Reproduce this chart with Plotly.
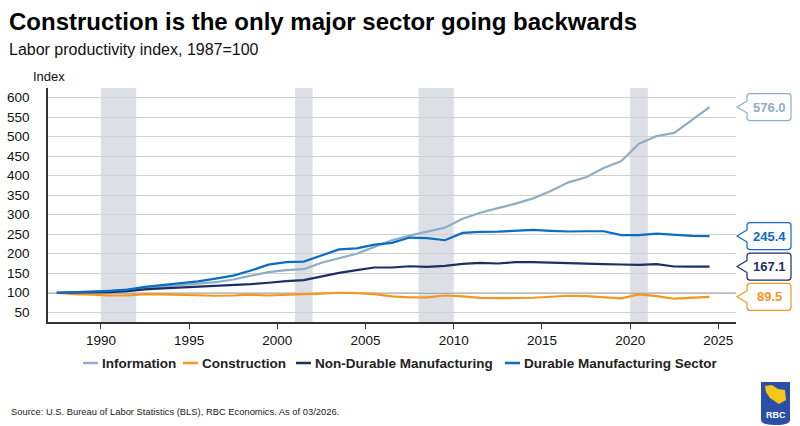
import plotly.graph_objects as go

# ---------------- data ----------------
years = list(range(1987, 2025))

information = [100, 102, 103, 104, 107.7, 112, 115, 119, 122, 127, 134, 143, 153, 158,
               160.5, 177, 189.5, 200, 217.6, 234.7, 246.6, 256, 267, 290, 305, 317,
               328.5, 342, 361, 383, 396, 420, 437.6, 482, 501.5, 510, 544, 576.0]

construction = [100, 96.5, 95, 93, 93, 96.6, 95.7, 94, 92.3, 92.3, 93, 95, 93, 94,
                96.6, 98, 100, 99, 96.6, 90.6, 88, 88, 93, 90.6, 87, 86,
                86.4, 87.2, 89.8, 92.3, 91.5, 89, 85.5, 95.7, 91.5, 84.7, 87, 89.5]

non_durable = [100, 100.5, 101, 101.7, 104, 108.5, 111, 113, 114.5, 117, 119.6, 122, 125.6, 130,
               132.4, 142.6, 151, 158, 164.8, 164.8, 168, 166.5, 169, 174, 176.7, 175,
               178.4, 178.4, 176.7, 176.7, 174, 173.3, 172.5, 171.6, 173.3, 167.3, 167, 167.1]

durable = [100, 101, 103, 105, 108, 115, 120, 124, 129, 136, 144, 157, 172, 178.4,
           180, 195.5, 211, 214, 223.6, 228, 241.5, 240, 234.7, 253.5, 256, 256.5,
           258.6, 261, 258.6, 257, 257.7, 257.7, 248, 248, 251.7, 249, 245.8, 245.4]

series_names = ["Information", "Construction", "Non-Durable Manufacturing", "Durable Manufacturing Sector"]
series_values = [information, construction, non_durable, durable]
series_colors = ["#8FAEC3", "#F7961E", "#1C2F66", "#0B6CC4"]

recession_start = [1990, 2001, 2008, 2020]
recession_end = [1992, 2002, 2010, 2021]

y_ticks = list(range(50, 601, 50))
x_ticks = list(range(1990, 2026, 5))
baseline = 100

# ---------------- layout helpers ----------------
W, H = 800, 426
ML, MR, MT, MB = 48, 64, 88, 104
PW, PH = W - ML - MR, H - MT - MB


def px2x(px):
    return (px - ML) / PW


def px2y(py):
    return (MT + PH - py) / PH


FONT = "Liberation Sans, Arial, sans-serif"

fig = go.Figure()

for name, vals, col in zip(series_names, series_values, series_colors):
    fig.add_trace(go.Scatter(
        x=[y + 0.5 for y in years], y=vals, name=name, mode="lines",
        line=dict(color=col, width=2.2), hoverinfo="x+y", showlegend=False))

shapes = []
for s, e in zip(recession_start, recession_end):
    shapes.append(dict(type="rect", xref="x", yref="paper", x0=s, x1=e, y0=0, y1=1,
                       fillcolor="#DCDFE6", line=dict(width=0), layer="below"))

shapes.append(dict(type="line", xref="paper", yref="y", x0=0, x1=1, y0=baseline, y1=baseline,
                   line=dict(color="#7A7A7A", width=1.5), layer="below"))

# callouts
callout_path = ("M 11,6 L 1,0 L 11,-6 L 11,-10.5 Q 11,-13.5 14,-13.5 L 52,-13.5 "
                "Q 55,-13.5 55,-10.5 L 55,10.5 Q 55,13.5 52,13.5 L 14,13.5 "
                "Q 11,13.5 11,10.5 Z")
annotations = []
for vals, col in zip(series_values, series_colors):
    shapes.append(dict(type="path", xref="paper", yref="y", xsizemode="pixel", ysizemode="pixel",
                       xanchor=1, yanchor=vals[-1], path=callout_path,
                       fillcolor="white", line=dict(color=col, width=1.2), layer="above"))
    annotations.append(dict(xref="paper", yref="y", x=px2x(ML + PW + 33), y=vals[-1],
                            text=f"<b>{vals[-1]:.1f}</b>", showarrow=False, xanchor="center",
                            yanchor="middle", font=dict(family=FONT, size=13, color=col)))

# manual legend
legend_line_x = [83, 183, 296, 505]
legend_y = 363
for name, col, lx in zip(series_names, series_colors, legend_line_x):
    shapes.append(dict(type="line", xref="paper", yref="paper", x0=px2x(lx), x1=px2x(lx + 15),
                       y0=px2y(legend_y), y1=px2y(legend_y), line=dict(color=col, width=2.5)))
    annotations.append(dict(xref="paper", yref="paper", x=px2x(lx + 17), y=px2y(legend_y),
                            xanchor="left", yanchor="middle", text=f"<b>{name}</b>", showarrow=False,
                            font=dict(family=FONT, size=13.5, color="#222222")))

# titles
annotations.append(dict(xref="paper", yref="paper", x=px2x(7), y=px2y(22), xanchor="left", yanchor="middle",
                        text="<b>Construction is the only major sector going backwards</b>", showarrow=False,
                        font=dict(family=FONT, size=24, color="#000000")))
annotations.append(dict(xref="paper", yref="paper", x=px2x(7), y=px2y(50), xanchor="left", yanchor="middle",
                        text="Labor productivity index, 1987=100", showarrow=False,
                        font=dict(family=FONT, size=16, color="#111111")))
annotations.append(dict(xref="paper", yref="paper", x=px2x(49), y=px2y(77), xanchor="center", yanchor="middle",
                        text="Index", showarrow=False,
                        font=dict(family=FONT, size=13, color="#111111")))
annotations.append(dict(xref="paper", yref="paper", x=px2x(9), y=px2y(411), xanchor="left", yanchor="middle",
                        text="Source: U.S. Bureau of Labor Statistics (BLS), RBC Economics. As of 03/2026.",
                        showarrow=False, font=dict(family=FONT, size=9.4, color="#222222")))

# RBC logo (decorative)
shapes.append(dict(type="path", xref="paper", yref="paper",
                   path=(f"M {px2x(761)},{px2y(382)} L {px2x(790)},{px2y(382)} L {px2x(790)},{px2y(420)} "
                         f"Q {px2x(790)},{px2y(425)} {px2x(775.5)},{px2y(425)} "
                         f"Q {px2x(761)},{px2y(425)} {px2x(761)},{px2y(420)} Z"),
                   fillcolor="#2B4FA6", line=dict(width=0), layer="above"))
shapes.append(dict(type="path", xref="paper", yref="paper",
                   path=(f"M {px2x(765)},{px2y(386)} L {px2x(772)},{px2y(385)} L {px2x(778)},{px2y(389)} "
                         f"L {px2x(785)},{px2y(390)} L {px2x(786)},{px2y(400)} L {px2x(779)},{px2y(404)} "
                         f"L {px2x(770)},{px2y(398)} L {px2x(766)},{px2y(392)} Z"),
                   fillcolor="#F5C518", line=dict(width=0), layer="above"))
annotations.append(dict(xref="paper", yref="paper", x=px2x(775.5), y=px2y(415), xanchor="center",
                        yanchor="middle", text="<b>RBC</b>", showarrow=False,
                        font=dict(family=FONT, size=9, color="white")))

fig.update_layout(
    width=W, height=H,
    margin=dict(l=ML, r=MR, t=MT, b=MB, pad=0, autoexpand=False),
    paper_bgcolor="white", plot_bgcolor="white",
    font=dict(family=FONT, color="#111111"),
    showlegend=False,
    shapes=shapes,
    annotations=annotations,
    xaxis=dict(range=[1987, 2026], tickvals=x_ticks, ticks="outside", ticklen=5,
               tickcolor="#333333", showline=True, linecolor="#333333", linewidth=1.5,
               showgrid=False, zeroline=False, automargin=False,
               tickfont=dict(family=FONT, size=13.5, color="#111111")),
    yaxis=dict(range=[25, 625], tickvals=y_ticks, ticks="", showline=True,
               linecolor="#333333", linewidth=1.5, showgrid=True, gridcolor="#D0D0D0",
               gridwidth=1.3, zeroline=False, ticklabelstandoff=14, automargin=False,
               tickfont=dict(family=FONT, size=13.5, color="#111111")),
)

fig.write_html("out.html", config={"displayModeBar": False},
               post_script="document.body.style.margin='0';document.body.style.overflow='hidden';")
